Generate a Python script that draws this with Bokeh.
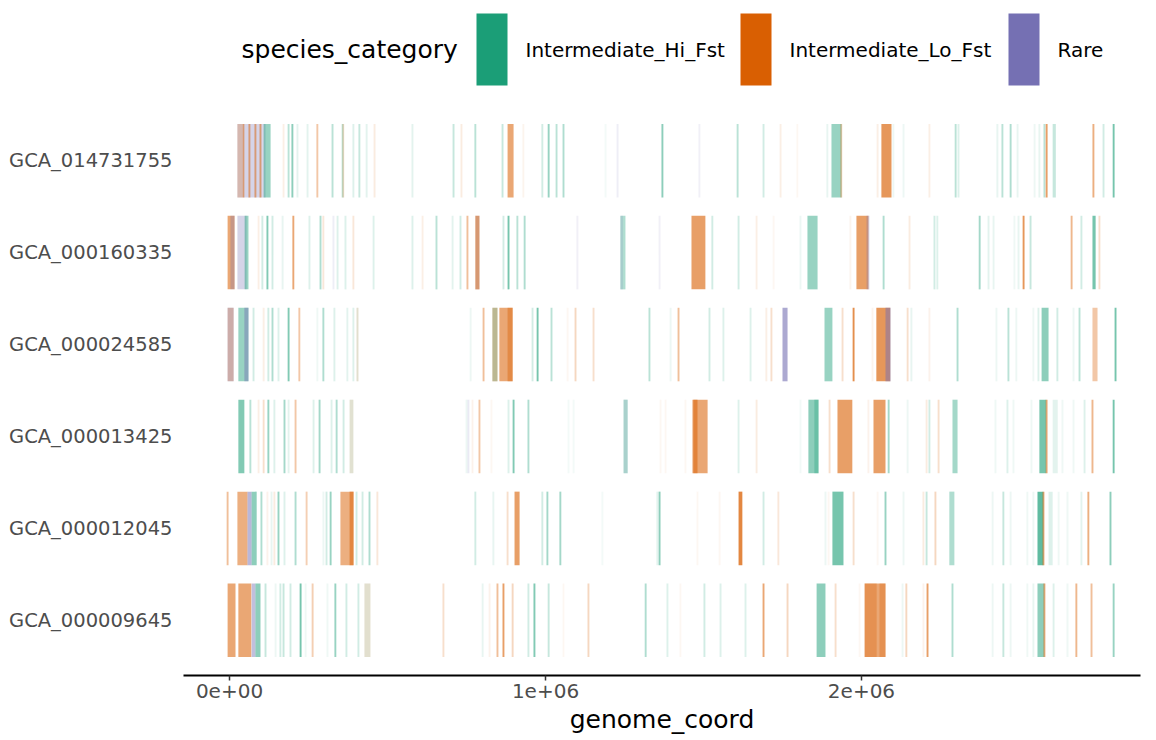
from bokeh.plotting import figure
from bokeh.models import FactorRange, Range1d, FixedTicker, ColumnDataSource
from bokeh.layouts import column
from bokeh.embed import file_html
from bokeh.resources import INLINE
from bokeh.core.properties import value

FONT = "DejaVu Sans"

# genomes, top to bottom as drawn
genomes = ["GCA_014731755", "GCA_000160335", "GCA_000024585",
           "GCA_000013425", "GCA_000012045", "GCA_000009645"]

category_codes = ["H", "L", "R"]
category_names = ["Intermediate_Hi_Fst", "Intermediate_Lo_Fst", "Rare"]
category_colors = ["#1B9E77", "#D95F02", "#7570B3"]

x_ticks = [0, 1_000_000, 2_000_000]
x_tick_labels = ["0e+00", "1e+06", "2e+06"]

# features: (position_kb, category, frequency) for single genes (centre),
#           (start_kb, category, frequency, length_kb) for gene clusters
GCA_014731755 = [
    (25, "R", 0.3, 79), (25, "L", 0.25, 15),
    (44, "L", 0.5), (63, "L", 0.5), (82, "L", 0.5), (98, "L", 0.5),
    (104, "R", 0.3, 10), (108, "H", 0.45, 22),
    (171, "L", 0.1), (187, "H", 0.3), (199, "H", 0.5), (215, "H", 0.12), (247, "H", 0.12),
    (278, "L", 0.35), (326, "H", 0.3), (358, "H", 0.3), (360, "L", 0.2), (392, "H", 0.15),
    (411, "H", 0.25), (434, "H", 0.12), (459, "L", 0.12), (579, "H", 0.12), (709, "H", 0.25),
    (734, "L", 0.12), (778, "H", 0.3), (864, "H", 0.25), (880, "L", 0.55, 19),
    (930, "L", 0.07), (990, "H", 0.2), (1010, "H", 0.45), (1035, "H", 0.3), (1057, "H", 0.35),
    (1190, "H", 0.05), (1228, "R", 0.12), (1370, "H", 0.5),
    (1487, "R", 0.1), (1608, "H", 0.3), (1690, "H", 0.2), (1744, "L", 0.1), (1797, "L", 0.05),
    (1892, "H", 0.1), (1905, "H", 0.45, 32), (1936, "L", 0.3),
    (2051, "L", 0.1), (2063, "L", 0.65, 32), (2101, "H", 0.08), (2133, "H", 0.08),
    (2215, "L", 0.1), (2298, "H", 0.3), (2307, "H", 0.15), (2430, "H", 0.1), (2446, "H", 0.3),
    (2472, "H", 0.35), (2494, "H", 0.1), (2548, "H", 0.08), (2563, "H", 0.1), (2579, "H", 0.3),
    (2586, "L", 0.6), (2605, "H", 0.25, 10), (2734, "L", 0.5), (2766, "H", 0.2), (2798, "H", 0.6),
]

GCA_000160335 = [
    (-6, "L", 0.55, 22), (3, "R", 0.3, 13), (25, "R", 0.3, 29), (48, "H", 0.45, 12),
    (92, "L", 0.1), (104, "H", 0.2), (120, "H", 0.55), (136, "H", 0.2), (168, "H", 0.1),
    (202, "L", 0.55), (253, "H", 0.15), (288, "H", 0.35), (297, "L", 0.15), (329, "R", 0.12),
    (342, "H", 0.15), (367, "H", 0.15), (392, "L", 0.15), (456, "H", 0.15), (579, "H", 0.15),
    (611, "L", 0.1), (655, "H", 0.3), (706, "H", 0.12), (731, "H", 0.2), (753, "L", 0.4),
    (778, "L", 0.6, 13), (778, "R", 0.15, 13), (867, "H", 0.2), (883, "H", 0.6),
    (911, "H", 0.3), (934, "H", 0.35), (1101, "R", 0.1), (1237, "H", 0.35, 16),
    (1237, "R", 0.15, 8), (1361, "R", 0.1),
    (1462, "L", 0.6, 44), (1528, "H", 0.2), (1611, "H", 0.2), (1668, "L", 0.1), (1722, "L", 0.05),
    (1807, "H", 0.08), (1829, "H", 0.45, 32), (1965, "L", 0.07), (1984, "L", 0.6, 38),
    (2016, "R", 0.3, 9), (2070, "H", 0.35), (2152, "L", 0.12), (2231, "H", 0.2), (2240, "H", 0.15),
    (2374, "H", 0.4), (2402, "H", 0.12), (2418, "H", 0.1), (2484, "H", 0.07), (2497, "H", 0.1),
    (2513, "L", 0.65), (2535, "H", 0.25), (2665, "L", 0.45), (2696, "H", 0.2),
    (2731, "H", 0.6, 10), (2753, "L", 0.2),
]

GCA_000024585 = [
    (-6, "R", 0.4, 19), (-6, "L", 0.25, 19), (28, "H", 0.45, 32), (47, "R", 0.45, 13),
    (76, "H", 0.2), (108, "L", 0.1), (123, "H", 0.2), (136, "H", 0.35), (155, "H", 0.15),
    (187, "H", 0.55), (221, "L", 0.35), (278, "H", 0.07), (297, "H", 0.35), (332, "H", 0.15),
    (373, "H", 0.12), (392, "H", 0.15), (405, "L", 0.15), (405, "H", 0.1),
    (763, "H", 0.08), (804, "L", 0.4), (832, "L", 0.4, 16), (832, "H", 0.25, 16),
    (854, "L", 0.55, 42), (880, "L", 0.4, 16), (959, "H", 0.2), (975, "H", 0.6),
    (1019, "H", 0.3), (1070, "L", 0.05), (1095, "L", 0.25), (1152, "L", 0.2), (1329, "H", 0.3),
    (1396, "H", 0.08),
    (1421, "L", 0.4), (1519, "H", 0.2), (1563, "H", 0.15), (1649, "H", 0.15), (1699, "L", 0.1),
    (1715, "L", 0.2), (1750, "R", 0.6, 16), (1883, "H", 0.45, 25), (1940, "L", 0.2),
    (1975, "L", 0.7), (2035, "L", 0.07), (2047, "L", 0.65, 44), (2076, "R", 0.5, 16),
    (2146, "L", 0.2), (2158, "H", 0.1), (2215, "L", 0.08), (2304, "H", 0.35), (2427, "H", 0.08),
    (2465, "H", 0.3), (2490, "H", 0.08), (2544, "H", 0.07), (2560, "H", 0.15),
    (2570, "H", 0.5, 22), (2620, "H", 0.2), (2671, "H", 0.08), (2690, "H", 0.3),
    (2731, "L", 0.35, 16), (2804, "H", 0.6),
]

GCA_000013425 = [
    (28, "H", 0.55, 19), (66, "H", 0.3), (92, "L", 0.1), (108, "L", 0.2), (123, "H", 0.45),
    (142, "H", 0.15), (174, "H", 0.4), (187, "H", 0.12), (209, "L", 0.35), (266, "H", 0.15),
    (285, "H", 0.4), (323, "H", 0.15), (339, "H", 0.35), (361, "H", 0.2),
    (380, "H", 0.12, 12), (380, "L", 0.12, 12),
    (750, "H", 0.08), (756, "R", 0.15), (769, "L", 0.08), (791, "L", 0.35), (829, "L", 0.05),
    (883, "H", 0.15), (899, "H", 0.55), (946, "H", 0.35), (1073, "H", 0.05), (1089, "H", 0.05),
    (1247, "H", 0.35, 13), (1247, "R", 0.1, 13), (1364, "L", 0.05), (1380, "L", 0.05),
    (1443, "L", 0.05), (1465, "L", 0.55, 48), (1468, "L", 0.5, 13), (1611, "H", 0.15),
    (1668, "L", 0.12), (1807, "H", 0.06), (1832, "H", 0.5, 32), (1851, "H", 0.3, 13),
    (1899, "L", 0.2), (1924, "L", 0.6, 47), (2022, "L", 0.08), (2038, "L", 0.6, 38),
    (2086, "H", 0.4), (2146, "H", 0.08), (2206, "L", 0.12), (2215, "H", 0.2), (2244, "L", 0.2),
    (2288, "H", 0.4, 16), (2424, "H", 0.07), (2462, "H", 0.15), (2481, "H", 0.07),
    (2538, "H", 0.07), (2563, "H", 0.6, 22), (2586, "L", 0.5), (2605, "H", 0.12, 16),
    (2636, "H", 0.07), (2671, "H", 0.07), (2706, "H", 0.15), (2731, "L", 0.45), (2798, "H", 0.6),
]

GCA_000012045 = [
    (-6, "L", 0.4), (25, "L", 0.5, 32), (57, "R", 0.5, 13), (70, "H", 0.5, 16), (101, "H", 0.35),
    (120, "L", 0.08), (133, "H", 0.1), (142, "L", 0.12), (155, "H", 0.45), (174, "H", 0.15),
    (209, "H", 0.35), (244, "L", 0.3), (297, "H", 0.08), (307, "H", 0.2), (320, "H", 0.45),
    (351, "L", 0.5, 41), (380, "L", 0.5, 13), (402, "H", 0.2), (421, "H", 0.2), (443, "H", 0.35),
    (468, "L", 0.15),
    (778, "H", 0.2), (835, "H", 0.1), (880, "L", 0.2), (902, "L", 0.6, 16), (990, "H", 0.2),
    (1006, "H", 0.4), (1047, "H", 0.4), (1180, "H", 0.05), (1354, "H", 0.12), (1361, "H", 0.5),
    (1481, "L", 0.05), (1551, "L", 0.05), (1611, "L", 0.75, 12), (1690, "H", 0.2),
    (1737, "L", 0.15), (1886, "H", 0.08), (1896, "L", 0.05), (1908, "H", 0.6, 35),
    (1975, "L", 0.2), (2051, "L", 0.05), (2076, "H", 0.45), (2133, "H", 0.08), (2196, "L", 0.12),
    (2206, "H", 0.25), (2234, "L", 0.25), (2278, "H", 0.35, 16), (2415, "H", 0.08),
    (2449, "H", 0.25), (2472, "H", 0.08), (2525, "H", 0.07), (2544, "H", 0.08),
    (2557, "H", 0.7, 19), (2573, "L", 0.5, 6), (2592, "H", 0.15, 13), (2624, "H", 0.07),
    (2652, "H", 0.07), (2696, "H", 0.12), (2718, "L", 0.5), (2788, "H", 0.5),
]

GCA_000009645 = [
    (-6, "L", 0.55, 25), (28, "L", 0.55, 41), (70, "R", 0.45, 12), (82, "H", 0.5, 16),
    (114, "H", 0.25), (146, "H", 0.08), (161, "H", 0.2), (171, "H", 0.25), (193, "H", 0.2),
    (225, "H", 0.6), (241, "H", 0.07), (263, "L", 0.3), (310, "H", 0.07), (335, "H", 0.45),
    (370, "H", 0.2), (408, "H", 0.2), (427, "L", 0.15, 19), (427, "H", 0.1, 19),
    (677, "L", 0.2), (801, "H", 0.1), (823, "L", 0.08), (848, "L", 0.4), (867, "L", 0.6),
    (896, "L", 0.25), (946, "H", 0.2), (965, "H", 0.55), (1010, "H", 0.25), (1057, "L", 0.05),
    (1136, "L", 0.25), (1317, "H", 0.35), (1386, "H", 0.15),
    (1427, "L", 0.05), (1503, "H", 0.2), (1554, "H", 0.15), (1633, "H", 0.15), (1690, "L", 0.55),
    (1766, "L", 0.25), (1858, "H", 0.5, 28), (1918, "L", 0.2), (1994, "L", 0.05),
    (2010, "L", 0.55, 66), (2010, "L", 0.3, 38), (2057, "L", 0.3, 19), (2130, "H", 0.08),
    (2142, "L", 0.25), (2196, "L", 0.08), (2209, "L", 0.6), (2288, "H", 0.35), (2415, "H", 0.08),
    (2449, "H", 0.25), (2472, "H", 0.08), (2525, "H", 0.07), (2544, "H", 0.1),
    (2557, "H", 0.5, 22), (2576, "L", 0.5, 6), (2608, "H", 0.15), (2652, "H", 0.07),
    (2680, "L", 0.45), (2728, "L", 0.4), (2798, "H", 0.45),
]

features = {
    "GCA_014731755": GCA_014731755,
    "GCA_000160335": GCA_000160335,
    "GCA_000024585": GCA_000024585,
    "GCA_000013425": GCA_000013425,
    "GCA_000012045": GCA_000012045,
    "GCA_000009645": GCA_000009645,
}

GENE_KB = 6  # drawn width of a single gene

color_of = dict(zip(category_codes, category_colors))
data = dict(y=[], left=[], right=[], color=[], alpha=[])
for g in genomes:
    for f in features[g]:
        if len(f) == 4:
            left_kb, right_kb = f[0], f[0] + f[3]
        else:
            left_kb, right_kb = f[0] - GENE_KB / 2, f[0] + GENE_KB / 2
        data["y"].append(g)
        data["left"].append(left_kb * 1000)
        data["right"].append(right_kb * 1000)
        data["color"].append(color_of[f[1]])
        data["alpha"].append(f[2])
src = ColumnDataSource(data)

W = 1156
BL, BR = 183, 16

p = figure(width=W, height=640,
           y_range=FactorRange(factors=list(reversed(genomes)), range_padding=0.1,
                               range_padding_units="absolute"),
           x_range=Range1d(-145600, 2883000),
           output_backend="svg", toolbar_location=None,
           min_border_left=BL, min_border_right=BR, min_border_top=5, min_border_bottom=65)
p.hbar(y="y", left="left", right="right", height=0.8, fill_color="color",
       fill_alpha="alpha", line_color=None, source=src)

p.outline_line_color = None
p.xgrid.visible = False
p.ygrid.visible = False
p.background_fill_color = "white"

xa = p.xaxis[0]
xa.ticker = FixedTicker(ticks=x_ticks)
xa.major_label_overrides = {t: l for t, l in zip(x_ticks, x_tick_labels)}
xa.minor_tick_line_color = None
xa.axis_line_color = "black"
xa.axis_line_width = 2
xa.major_tick_line_color = "#333333"
xa.major_tick_line_width = 1.5
xa.major_tick_out = 5
xa.major_tick_in = 0
xa.major_label_text_font = FONT
xa.major_label_text_font_size = "20px"
xa.major_label_text_color = "#4D4D4D"
xa.major_label_standoff = 3
xa.axis_label = "genome_coord"
xa.axis_label_text_font = FONT
xa.axis_label_text_font_size = "25px"
xa.axis_label_text_font_style = "normal"
xa.axis_label_text_color = "black"
xa.axis_label_standoff = 4

ya = p.yaxis[0]
ya.axis_line_color = None
ya.major_tick_line_color = None
ya.major_tick_out = 0
ya.major_tick_in = 0
ya.minor_tick_line_color = None
ya.major_label_text_font = FONT
ya.major_label_text_font_size = "19.5px"
ya.major_label_text_color = "#4D4D4D"
ya.major_label_standoff = 11

# legend strip on top (x range matches window pixels over the aligned frame)
lg = figure(width=W, height=100, x_range=Range1d(BL, W - BR), y_range=Range1d(100, 0),
            output_backend="svg", toolbar_location=None,
            min_border_left=BL, min_border_right=BR, min_border_top=0, min_border_bottom=0)
lg.axis.visible = False
lg.grid.visible = False
lg.outline_line_color = None

lg.text(x=[241], y=[49], text=["species_category"], text_font=value(FONT),
        text_font_size="25px", text_baseline="middle", text_align="left", text_color="black")
key_x = [476, 740, 1008]
lg.quad(left=key_x, right=[k + 31 for k in key_x], top=[13] * 3, bottom=[85] * 3,
        fill_color=category_colors, line_color=None)
lg.text(x=[k + 49 for k in key_x], y=[49] * 3, text=category_names, text_font=value(FONT),
        text_font_size="20px", text_baseline="middle", text_align="left", text_color="black")

layout = column(lg, p, spacing=0)
open("out.html", "w").write(file_html(layout, INLINE))
